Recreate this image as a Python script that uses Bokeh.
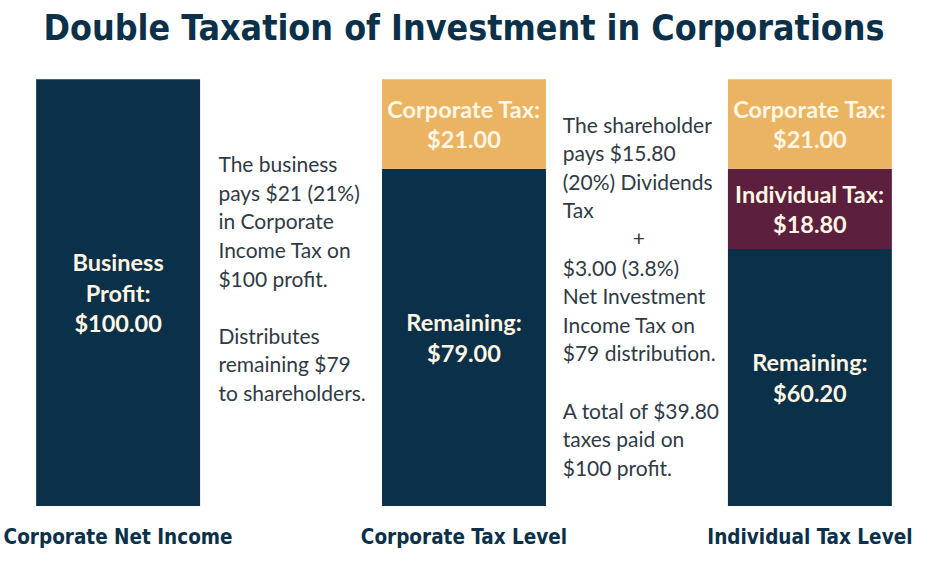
import numpy as np
from bokeh.plotting import figure
from bokeh.models import ColumnDataSource
from bokeh.core.properties import value
from bokeh.embed import file_html
from bokeh.resources import INLINE


levels = ["Corporate Net Income", "Corporate Tax Level", "Individual Tax Level"]
remaining = [100.0, 79.0, 60.2]
individual_tax = [0.0, 0.0, 18.8]
corporate_tax = [0.0, 21.0, 21.0]
remaining_names = ["Business\nProfit:", "Remaining:", "Remaining:"]

note_1 = ["The business", "pays $21 (21%)", "in Corporate", "Income Tax on",
          "$100 profit.", "", "Distributes", "remaining $79", "to shareholders."]
note_2 = ["The shareholder", "pays $15.80", "(20%) Dividends", "Tax", "+",
          "$3.00 (3.8%)", "Net Investment", "Income Tax on", "$79 distribution.",
          "", "A total of $39.80", "taxes paid on", "$100 profit."]

NAVY = "#0b3049"
GOLD = "#ebb462"
MAROON = "#5c1f3d"
CREAM = "#fff6e4"
NOTE_COLOR = "#2f3a44"
NARROW = value("'DejaVu Sans Condensed', Roboto")
BODY = value("Lato")

xs = np.arange(len(levels))

p = figure(width=927, height=560, x_range=(-0.34, 2.34), y_range=(-12.76, 118.45),
           output_backend="svg", toolbar_location=None, min_border=0)
p.axis.visible = False
p.grid.visible = False
p.outline_line_color = None
p.background_fill_color = "white"
p.border_fill_color = "white"

src = ColumnDataSource(dict(x=xs, remaining=remaining, individual=individual_tax,
                            corporate=corporate_tax))
p.vbar_stack(["remaining", "individual", "corporate"], x="x", width=0.474,
             color=[NAVY, MAROON, GOLD], line_color=None, source=src)

# labels inside the bar segments
lx, ly, lt = [], [], []
for i in range(len(levels)):
    segs = [(remaining[i], remaining_names[i]),
            (individual_tax[i], "Individual Tax:"),
            (corporate_tax[i], "Corporate Tax:")]
    base = 0
    for v, name in segs:
        if v > 0:
            lx.append(xs[i])
            ly.append(base + v / 2)
            lt.append("%s\n$%.2f" % (name, v))
        base += v
p.text(lx, ly, text=lt, text_align="center", text_baseline="middle",
       text_font=BODY, text_font_style="bold", text_font_size="23.5px",
       text_color=CREAM, text_line_height=1.1)

# side notes, one line at a time
for nx, ny, lines in [(0.29, 80.2, note_1), (1.2855, 89.5, note_2)]:
    offs = [28.6 * k for k in range(len(lines))]
    xoff = [70 if t == "+" else 0 for t in lines]
    p.text([nx] * len(lines), [ny] * len(lines), text=lines, x_offset=xoff, y_offset=offs,
           text_align="left", text_baseline="middle", text_font=BODY,
           text_font_size="21px", text_color=NOTE_COLOR)

# level names under the bars
p.text(xs, [-7.3] * 3, text=levels, text_align="center", text_baseline="middle",
       text_font=NARROW, text_font_style="bold", text_font_size="20.5px", text_color=NAVY)

p.text([1.0], [112.1], text=["Double Taxation of Investment in Corporations"],
       text_align="center", text_baseline="middle", text_font=NARROW,
       text_font_style="bold", text_font_size="35.5px", text_color=NAVY)

open("out.html", "w").write(file_html(p, INLINE))
